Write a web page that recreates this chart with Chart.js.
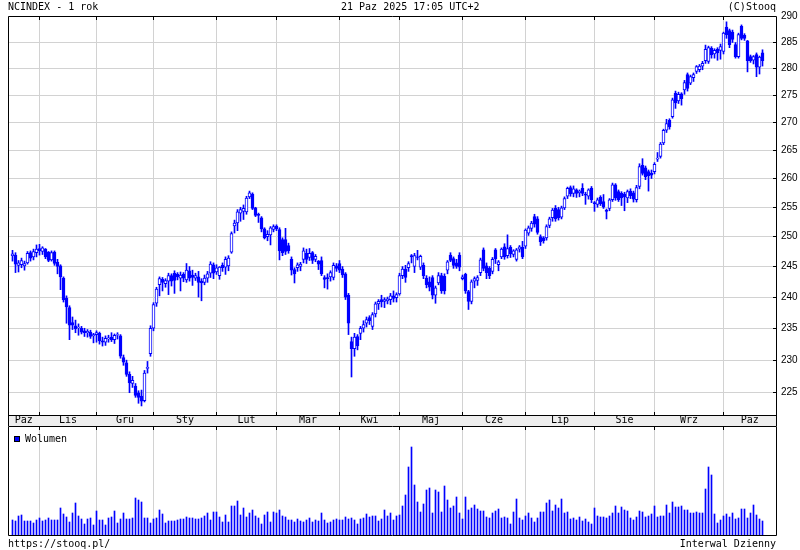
<!DOCTYPE html>
<html>
<head>
<meta charset="utf-8">
<script src="https://cdn.jsdelivr.net/npm/chart.js@4"></script>
<style>
  body { margin: 0; background: #fff; }
  #wrap { position: relative; width: 800px; height: 550px; overflow: hidden; }
  canvas { position: absolute; left: 0; }
  .txt { position: absolute; font: 10px 'DejaVu Sans Mono', monospace; line-height: 12px; color: #000; white-space: nowrap; }
  #legBox { position: absolute; left: 14px; top: 436px; width: 4px; height: 4px; border: 1px solid #000; background: #0000ff; }
</style>
</head>
<body>
<div id="wrap">
  <canvas id="price" width="800" height="426" style="top:0"></canvas>
  <canvas id="volume" width="800" height="124" style="top:426px"></canvas>
  <div class="txt" style="left:8px;top:1px">NCINDEX - 1 rok</div>
  <div class="txt" style="left:341px;top:1px">21 Paz 2025 17:05 UTC+2</div>
  <div class="txt" style="right:24px;top:1px">(C)Stooq</div>
  <div id="legBox"></div>
  <div class="txt" style="left:25px;top:433px">Wolumen</div>
  <div class="txt" style="left:8px;top:538px">https://stooq.pl/</div>
  <div class="txt" style="right:24px;top:538px">Interwal Dzienny</div>
</div>
<script>
// month labels and index of first session of each month
const months = ['Paz', 'Lis', 'Gru', 'Sty', 'Lut', 'Mar', 'Kwi', 'Maj', 'Cze', 'Lip', 'Sie', 'Wrz', 'Paz'];
const monthStarts = [9, 28, 47, 68, 88, 109, 129, 150, 171, 194, 214, 237];
const yTicks = [225, 230, 235, 240, 245, 250, 255, 260, 265, 270, 275, 280, 285, 290];

// daily OHLC, NCINDEX
const opens = [
  246.8, 246.9, 245.2, 245.3, 245.1, 245.6, 247.3, 246.6, 247.3,
  248.0, 247.5, 247.9, 247.4, 246.1, 247.4, 245.7, 245.1, 243.1, 239.8,
  238.3, 235.9, 235.4, 235.1, 235.0, 234.6, 234.3, 234.4, 233.8,
  234.0, 234.2, 233.0, 232.8, 233.3, 233.6, 233.2, 233.9, 233.8, 230.4,
  229.6, 227.8, 226.4, 226.0, 225.0, 224.5, 223.8, 228.7,
  231.0, 235.0, 239.0, 242.0, 242.9, 242.2, 242.6, 243.5, 243.9, 243.7,
  243.1, 243.7, 242.8, 244.3, 243.6, 243.1, 243.3, 242.6, 242.4, 243.1, 243.9, 245.3,
  244.1, 243.5, 245.2, 244.9, 245.1, 247.4, 251.8, 252.3, 254.0, 254.3,
  254.2, 256.8, 257.3, 254.9, 253.8, 253.2, 251.3, 250.0, 250.3, 251.2,
  251.8, 251.2, 249.5, 249.5, 248.5, 246.2, 244.5, 244.8, 245.0, 246.2,
  247.2, 246.5, 247.3, 246.2, 245.9, 246.0, 243.2, 243.2, 243.3, 243.2, 245.1,
  245.5, 244.6, 243.8, 240.3, 232.9, 231.8, 233.7, 234.2, 235.0, 235.8,
  236.7, 235.3, 237.3, 238.9, 239.6, 239.3, 239.4, 239.6, 240.2, 239.9,
  240.5, 243.5, 244.6, 244.8, 246.8, 245.0, 246.6, 244.9, 245.2, 243.1,
  242.5, 243.2, 240.3, 242.3, 243.5, 243.4, 244.4, 246.9, 246.3, 245.6, 246.9,
  243.0, 243.7, 240.9, 239.3, 242.6, 242.7, 244.0, 247.8, 245.1, 244.7,
  244.2, 247.8, 245.3, 246.6, 248.3, 246.8, 248.2, 247.0, 246.2, 247.9, 248.2,
  248.4, 250.6, 251.4, 253.4, 253.0, 250.0, 249.8, 249.8, 251.9, 253.2,
  254.8, 254.6, 253.3, 254.9, 256.9, 258.4, 257.4, 258.0, 257.5, 258.3, 257.3, 256.9, 258.3,
  255.8, 255.5, 256.7, 256.0, 254.5, 254.8, 256.3, 258.9, 257.7, 257.4,
  257.3, 256.6, 257.8, 257.5, 256.3, 258.6, 262.3, 261.9, 261.2, 260.9,
  261.2, 263.4, 263.9, 266.3, 268.6, 270.4, 271.1, 275.4, 274.0, 275.3,
  276.0, 278.9, 277.3, 278.3, 279.5, 279.8, 280.5, 281.5, 281.4, 283.9, 282.8, 283.7, 283.5,
  283.3, 288.0, 287.3, 287.0, 284.6, 282.3, 288.1, 286.4, 285.3, 282.3, 281.6, 282.7, 280.3, 283.0
];
const highs = [
  247.7, 247.3, 246.0, 246.4, 245.9, 247.5, 247.6, 247.9, 248.6,
  248.7, 248.3, 248.0, 247.5, 247.6, 247.6, 246.2, 245.3, 243.3, 240.2,
  238.6, 236.8, 236.3, 235.7, 235.3, 235.0, 234.8, 234.7, 234.2,
  234.6, 234.4, 233.6, 233.8, 233.9, 234.3, 234.1, 234.3, 234.0, 230.8,
  230.0, 228.2, 227.5, 226.4, 225.3, 225.4, 228.4, 229.8,
  235.4, 239.1, 241.6, 243.3, 243.2, 243.0, 243.9, 243.8, 244.3, 244.0,
  244.1, 244.0, 245.5, 245.0, 244.4, 243.9, 244.2, 243.0, 243.6, 244.2, 245.8, 245.6,
  245.3, 245.0, 245.6, 246.6, 246.8, 250.8, 252.8, 254.6, 255.0, 255.4,
  256.9, 257.8, 257.5, 255.0, 254.0, 253.4, 251.5, 251.0, 251.7, 252.0,
  252.0, 251.5, 249.8, 251.4, 248.9, 246.6, 244.8, 245.6, 245.7, 248.1,
  247.9, 248.0, 247.5, 247.0, 246.0, 246.6, 243.5, 243.8, 244.3, 245.6, 245.5,
  246.0, 245.0, 244.0, 240.6, 233.6, 234.2, 234.0, 235.3, 236.2, 236.8,
  237.0, 237.5, 239.2, 239.6, 240.3, 239.9, 240.0, 240.6, 241.0, 240.7,
  243.9, 245.0, 245.2, 245.8, 247.0, 247.2, 247.7, 246.9, 245.6, 243.5,
  243.3, 243.5, 241.8, 244.0, 243.9, 243.8, 246.0, 247.3, 246.6, 246.2, 247.3,
  243.6, 243.9, 241.1, 242.8, 243.3, 243.5, 246.4, 248.1, 245.6, 245.0,
  246.5, 248.0, 246.0, 248.1, 248.8, 250.3, 248.5, 247.8, 248.0, 248.5, 249.2,
  251.3, 251.8, 252.6, 253.8, 253.4, 250.3, 250.0, 252.0, 253.3, 254.8,
  255.3, 255.0, 255.2, 256.8, 258.5, 258.7, 258.7, 258.2, 258.0, 259.1, 257.6, 258.2, 258.6,
  256.0, 256.6, 257.0, 257.2, 254.7, 256.5, 259.2, 259.1, 258.0, 257.7,
  257.6, 258.0, 258.2, 257.8, 258.8, 262.6, 263.5, 262.2, 261.5, 261.5,
  262.8, 264.6, 266.4, 268.8, 270.6, 270.7, 274.5, 275.8, 275.6, 275.5,
  277.8, 279.2, 278.8, 279.2, 280.6, 280.8, 281.4, 284.5, 284.3, 284.2, 283.8, 284.0, 284.7,
  287.0, 289.0, 287.6, 287.4, 285.0, 286.8, 288.4, 286.7, 285.4, 282.6, 282.5, 283.0, 282.4, 283.6
];
const lows = [
  245.9, 244.0, 244.1, 244.8, 244.4, 245.4, 245.9, 246.1, 246.6,
  246.9, 247.0, 246.3, 245.8, 245.9, 245.2, 243.8, 241.2, 239.2, 235.8,
  233.2, 234.8, 234.3, 233.9, 234.1, 233.7, 233.6, 233.4, 232.7,
  232.8, 232.5, 232.2, 232.3, 232.8, 232.9, 232.6, 233.3, 230.3, 229.2,
  227.5, 225.0, 225.8, 224.3, 223.4, 223.0, 223.6, 228.0,
  230.6, 234.6, 238.5, 240.2, 241.0, 241.6, 240.4, 241.8, 240.6, 242.8,
  241.0, 242.5, 242.4, 242.6, 241.9, 242.7, 240.0, 239.4, 242.0, 242.4, 243.2, 243.0,
  243.7, 242.9, 244.2, 243.7, 244.3, 247.2, 250.6, 251.0, 252.6, 252.9,
  253.8, 256.5, 254.6, 253.4, 252.4, 250.8, 249.6, 249.3, 248.6, 250.8,
  251.0, 246.1, 246.8, 247.0, 247.2, 243.6, 242.3, 244.2, 244.3, 245.6,
  245.5, 246.0, 245.5, 245.8, 244.5, 243.5, 241.5, 241.3, 242.6, 242.8, 244.2,
  244.0, 243.2, 239.6, 234.0, 227.4, 230.6, 231.6, 233.2, 234.4, 235.2,
  235.6, 234.8, 236.8, 238.0, 238.4, 238.3, 238.9, 238.8, 239.2, 239.2,
  240.3, 243.0, 242.4, 244.2, 245.6, 244.0, 246.1, 244.5, 243.0, 241.5,
  241.0, 239.7, 239.0, 242.0, 240.6, 240.5, 243.8, 245.8, 244.7, 244.7, 244.3,
  242.8, 240.6, 238.0, 238.9, 241.5, 241.9, 243.5, 244.3, 243.0, 243.0,
  243.8, 245.5, 244.3, 246.3, 246.2, 246.4, 246.5, 246.6, 245.9, 247.4, 246.3,
  248.0, 250.2, 250.9, 251.6, 250.4, 248.5, 248.9, 249.4, 251.5, 252.6,
  252.6, 252.8, 253.0, 254.6, 256.5, 256.9, 256.8, 256.7, 256.8, 257.0, 255.5, 256.4, 255.8,
  254.3, 255.0, 255.3, 254.8, 253.0, 254.4, 256.0, 256.2, 256.0, 255.3,
  254.4, 255.8, 256.5, 255.9, 255.9, 258.2, 260.6, 259.8, 257.8, 260.0,
  260.8, 263.0, 263.6, 266.0, 268.2, 268.8, 270.8, 272.6, 273.5, 273.2,
  275.2, 275.8, 277.0, 277.6, 279.1, 279.4, 279.8, 281.0, 281.0, 282.0, 282.0, 281.6, 281.8,
  282.8, 285.8, 284.0, 285.0, 282.0, 282.0, 285.5, 285.4, 279.4, 281.2, 280.9, 278.5, 279.0, 280.5
];
const closes = [
  247.1, 245.4, 245.6, 246.0, 245.5, 247.2, 246.4, 247.5, 247.9,
  247.6, 248.1, 246.6, 246.0, 247.3, 245.5, 245.0, 243.3, 239.6, 238.4,
  235.5, 235.5, 234.9, 235.2, 234.4, 234.3, 234.5, 233.7, 234.0,
  234.3, 233.0, 232.8, 233.4, 233.5, 233.2, 233.9, 234.0, 230.6, 229.7,
  227.8, 226.5, 226.9, 224.6, 224.3, 223.7, 228.0, 228.9,
  235.0, 238.8, 241.3, 243.0, 242.4, 242.7, 243.5, 242.6, 242.7, 243.3,
  243.6, 243.1, 244.4, 243.1, 243.2, 243.5, 242.4, 242.3, 243.1, 243.8, 245.4, 243.9,
  244.8, 244.9, 244.8, 246.2, 246.4, 250.5, 252.3, 254.2, 254.6, 254.8,
  256.6, 257.5, 254.8, 253.6, 253.6, 251.3, 249.8, 250.4, 251.5, 251.7,
  251.3, 247.6, 247.3, 247.5, 247.6, 244.4, 243.8, 245.3, 245.4, 247.6,
  246.2, 247.2, 246.0, 246.7, 245.4, 243.8, 242.9, 243.0, 244.0, 245.2, 244.7,
  244.4, 243.6, 240.0, 235.8, 231.8, 233.6, 232.2, 235.0, 235.6, 236.4,
  236.2, 237.2, 238.9, 239.3, 239.2, 239.6, 239.7, 240.2, 239.8, 240.4,
  243.5, 244.6, 243.2, 245.5, 246.6, 246.8, 246.5, 246.7, 243.5, 242.0,
  241.6, 240.3, 241.5, 243.5, 241.0, 241.0, 245.8, 246.0, 245.2, 245.0, 244.9,
  243.3, 241.0, 239.3, 242.5, 243.0, 243.2, 246.1, 244.7, 244.0, 243.5,
  246.2, 246.3, 245.8, 247.9, 246.6, 248.0, 247.1, 247.6, 247.8, 248.3, 246.6,
  251.1, 251.5, 252.3, 252.1, 250.7, 249.1, 249.3, 251.7, 253.0, 254.5,
  253.0, 253.2, 254.9, 256.5, 258.3, 257.3, 258.2, 257.4, 257.8, 257.4, 257.1, 258.0, 256.3,
  255.6, 256.3, 255.6, 255.0, 254.3, 256.3, 258.9, 256.6, 256.3, 256.6,
  256.8, 257.7, 257.0, 256.4, 258.4, 262.1, 260.9, 260.3, 260.5, 260.6,
  262.5, 263.6, 266.1, 268.6, 269.8, 269.2, 274.2, 273.6, 275.2, 274.4,
  277.4, 276.3, 278.5, 278.9, 280.4, 280.5, 281.0, 283.7, 284.0, 282.6, 283.5, 283.0, 284.2,
  286.8, 286.5, 284.6, 285.6, 282.3, 286.5, 285.8, 285.8, 281.5, 281.5, 282.3, 280.3, 282.2, 281.5
];
// daily volume (relative units)
const volumes = [
  15, 14, 19, 20, 14, 14, 14, 12, 15, 17,
  14, 15, 17, 15, 15, 15, 27, 21, 18, 13,
  22, 32, 19, 16, 11, 16, 17, 10, 24, 15,
  15, 10, 17, 18, 24, 12, 16, 22, 16, 16,
  17, 37, 35, 33, 17, 17, 12, 16, 17, 25,
  21, 12, 14, 14, 14, 15, 16, 16, 18, 17,
  17, 16, 16, 17, 19, 22, 15, 23, 23, 18,
  13, 20, 13, 29, 29, 34, 20, 27, 18, 22,
  25, 19, 17, 11, 20, 23, 13, 23, 22, 25,
  19, 18, 15, 15, 13, 16, 14, 13, 15, 17,
  13, 15, 14, 22, 15, 12, 13, 15, 16, 15,
  15, 18, 16, 17, 15, 11, 16, 17, 21, 18,
  19, 19, 14, 16, 25, 19, 22, 15, 19,
  20, 29, 40, 68, 88, 50, 33, 23, 31, 45,
  47, 22, 45, 43, 23, 49, 35, 27, 29, 38,
  22, 16, 38, 25, 27, 30, 26, 24, 24, 18,
  17, 22, 24, 26, 17, 18, 17, 11, 23, 36,
  17, 15, 19, 22, 17, 13, 17, 23, 23, 32,
  35, 24, 30, 27, 36, 22, 23, 16, 17, 15,
  18, 14, 16, 13, 11, 27, 19, 18, 18, 17,
  19, 22, 29, 22, 28, 25, 24, 17, 15, 18,
  24, 23, 18, 19, 21, 29, 18, 19, 19, 30,
  22, 33, 28, 28, 29, 25, 25, 22, 22, 23,
  22, 22, 46, 68, 60, 21, 12, 15, 19, 21,
  18, 22, 16, 17, 26, 26, 17, 22, 30, 20,
  16, 14
];

const BLUE = '#0000ff';
const GRID = '#d2d2d2';
const MONO = "'DejaVu Sans Mono', monospace";

Chart.defaults.font.family = MONO;
Chart.defaults.font.size = 10;
Chart.defaults.color = '#000';

// ticks at month starts (grid) + mid-month ticks carrying the label
function monthTicks(scale, withNames) {
  const ticks = monthStarts.map(v => ({ value: v }));
  if (withNames) {
    const edges = [scale.min, ...monthStarts, scale.max];
    months.forEach((m, k) => ticks.push({ value: (edges[k] + edges[k + 1]) / 2, name: m }));
  }
  ticks.sort((a, b) => a.value - b.value);
  scale.ticks = ticks;
}
const crisp = v => Math.round(v - 0.5) + 0.5;

const priceFrame = {
  id: 'priceFrame',
  beforeDraw(chart) {
    const { ctx, chartArea: a } = chart;
    ctx.save();
    ctx.fillStyle = '#eeeeee';
    ctx.fillRect(a.left, a.bottom, a.right - a.left, chart.height - a.bottom);
    ctx.restore();
  },
  afterDraw(chart) {
    const { ctx, chartArea: a, scales } = chart;
    ctx.save();
    ctx.strokeStyle = '#000';
    ctx.lineWidth = 1;
    ctx.beginPath();
    ctx.rect(a.left + 0.5, a.top + 0.5, a.right - a.left, a.bottom - a.top);
    ctx.moveTo(a.left + 0.5, a.bottom); ctx.lineTo(a.left + 0.5, chart.height);
    ctx.moveTo(a.right + 0.5, a.bottom); ctx.lineTo(a.right + 0.5, chart.height);
    monthStarts.forEach(v => {
      const x = crisp(scales.x.getPixelForValue(v));
      ctx.moveTo(x, a.top); ctx.lineTo(x, a.top + 4);
      ctx.moveTo(x, a.bottom - 3); ctx.lineTo(x, a.bottom);
    });
    yTicks.forEach(v => {
      const y = crisp(scales.y.getPixelForValue(v));
      ctx.moveTo(a.right - 3, y); ctx.lineTo(a.right, y);
    });
    ctx.stroke();
    ctx.restore();
  }
};

const volFrame = {
  id: 'volFrame',
  afterDraw(chart) {
    const { ctx, chartArea: a, scales } = chart;
    ctx.save();
    ctx.strokeStyle = '#000';
    ctx.lineWidth = 1;
    ctx.beginPath();
    ctx.rect(a.left + 0.5, a.top + 0.5, a.right - a.left, a.bottom - a.top);
    monthStarts.forEach(v => {
      const x = crisp(scales.x.getPixelForValue(v));
      ctx.moveTo(x, a.top); ctx.lineTo(x, a.top + 4);
    });
    ctx.stroke();
    ctx.restore();
  }
};

const idx = closes.map((_, i) => i);

new Chart(document.getElementById('price'), {
  type: 'bar',
  data: {
    datasets: [
      {
        label: 'body',
        data: idx.map(i => ({ x: i, y: [opens[i], closes[i]] })),
        backgroundColor: c => closes[c.dataIndex] >= opens[c.dataIndex] ? '#ffffff' : BLUE,
        borderColor: BLUE,
        borderWidth: 1,
        borderSkipped: false,
        barThickness: 3,
        grouped: false,
        order: 0
      },
      {
        label: 'wick',
        data: idx.map(i => ({ x: i, y: [lows[i], highs[i]] })),
        backgroundColor: BLUE,
        borderWidth: 0,
        barThickness: 1,
        grouped: false,
        order: 1
      }
    ]
  },
  options: {
    responsive: false,
    animation: false,
    layout: { padding: { left: 8, top: 16, right: 0, bottom: 0 } },
    plugins: { legend: { display: false }, tooltip: { enabled: false } },
    scales: {
      x: {
        type: 'linear',
        min: -1.5,
        max: 254.5,
        offset: false,
        afterBuildTicks: s => monthTicks(s, true),
        afterFit: s => { s.height = 11; },
        grid: {
          offset: false,
          drawTicks: false,
          color: c => (c.tick && c.tick.name) ? 'rgba(0,0,0,0)' : GRID
        },
        border: { display: false },
        ticks: {
          autoSkip: false,
          maxRotation: 0,
          padding: 0,
          font: { family: MONO, size: 10, lineHeight: 1.1 },
          callback: (v, i, ticks) => ticks[i].name || ''
        }
      },
      y: {
        type: 'logarithmic',
        position: 'right',
        min: 221.64,
        max: 290.14,
        bounds: 'data',
        afterBuildTicks: s => { s.ticks = yTicks.map(v => ({ value: v })); },
        afterFit: s => { s.width = 24; },
        grid: { color: GRID, drawTicks: false },
        border: { display: false },
        ticks: {
          padding: 5,
          font: { family: "'Liberation Sans', Arial, sans-serif", size: 10 },
          callback: v => String(v)
        }
      }
    }
  },
  plugins: [priceFrame]
});

new Chart(document.getElementById('volume'), {
  type: 'bar',
  data: {
    datasets: [{
      label: 'Wolumen',
      data: idx.map(i => ({ x: i, y: volumes[i] })),
      backgroundColor: BLUE,
      borderWidth: 0,
      barThickness: 1
    }]
  },
  options: {
    responsive: false,
    animation: false,
    layout: { padding: { left: 8, top: 0, right: 24, bottom: 15 } },
    plugins: { legend: { display: false }, tooltip: { enabled: false } },
    scales: {
      x: {
        type: 'linear',
        min: -1.5,
        max: 254.5,
        offset: false,
        afterBuildTicks: s => monthTicks(s, false),
        afterFit: s => { s.height = 0; },
        grid: { offset: false, drawTicks: false, color: GRID },
        border: { display: false },
        ticks: { display: false }
      },
      y: {
        display: false,
        min: 0,
        max: 109
      }
    }
  },
  plugins: [volFrame]
});
</script>
</body>
</html>
